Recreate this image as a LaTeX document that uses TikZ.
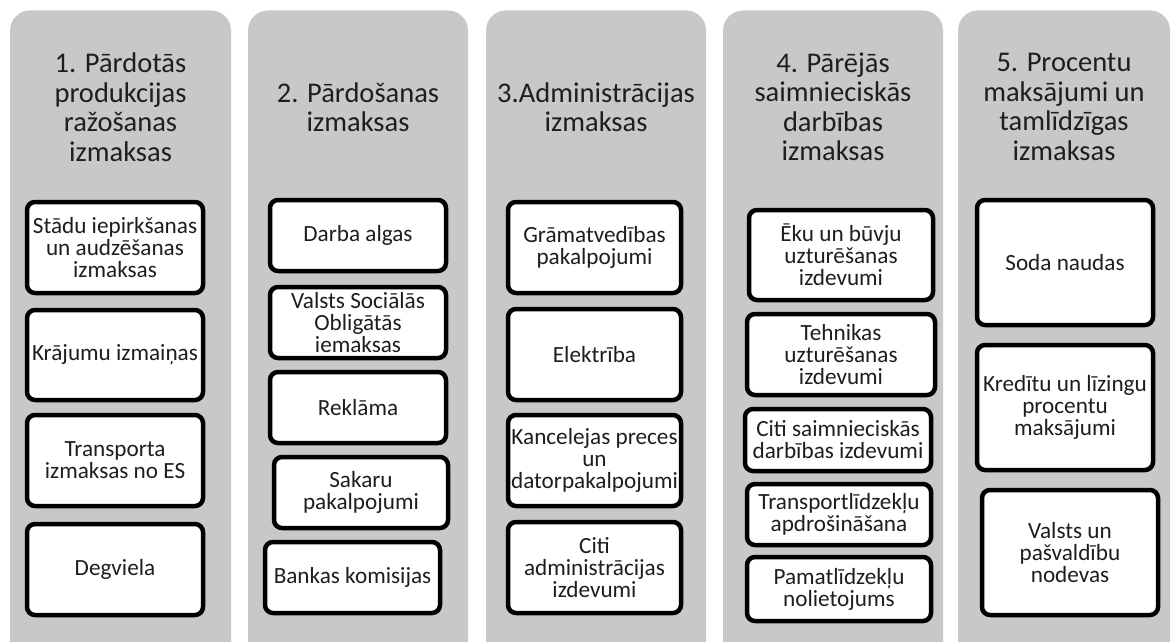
\documentclass[tikz,border=0pt]{standalone}
\usepackage{fontspec}
\setmainfont{Carlito}
\usetikzlibrary{backgrounds}
\definecolor{panelgray}{RGB}{200,200,200}
\definecolor{inktext}{RGB}{30,30,30}

\begin{document}
\begin{tikzpicture}[x=1pt, y=-1pt]
	  \tikzstyle{panel} = [rectangle, rounded corners=20pt, fill=panelgray, inner sep=0pt, minimum height=670pt]
	  \tikzstyle{heading} = [align=center, text=inktext, font=\fontsize{28.5}{29.5}\selectfont]
	  \tikzstyle{item} = [rectangle, rounded corners=8pt, draw=black, line width=4.5pt, fill=white,
	    align=center, text=inktext, inner sep=0pt, font=\fontsize{23.2}{22}\selectfont]
	  \clip (0,0) rectangle (1171,642);
	  % grey columns
	  \foreach \n/\x/\w in {1/120.5/221, 2/358/220, 3/596/220, 4/833/220, 5/1064/212}
	    \node[panel, minimum width=\w pt] (col\n) at (\x, 345.5) {};
	  % headings
	  \node[heading] (h1) at (120.5, 107) {1. Pārdotās\\produkcijas\\ražošanas\\izmaksas};
	  \node[heading] (h2) at (358, 107) {2. Pārdošanas\\izmaksas};
	  \node[heading] (h3) at (596, 107) {3.Administrācijas\\izmaksas};
	  \node[heading] (h4) at (833, 107) {4. Pārējās\\saimnieciskās\\darbības\\izmaksas};
	  \node[heading] (h5) at (1064, 107) {5. Procentu\\maksājumi un\\tamlīdzīgas\\izmaksas};
	  % column 1
	  \node[item, minimum width=176, minimum height=91] (a1) at (115, 247.5) {Stādu iepirkšanas\\un audzēšanas\\izmaksas};
	  \node[item, minimum width=176, minimum height=90] (a2) at (115, 355) {Krājumu izmaiņas};
	  \node[item, minimum width=176, minimum height=91] (a3) at (115, 460.5) {Transporta\\izmaksas no ES};
	  \node[item, minimum width=176, minimum height=91] (a4) at (115, 569.5) {Degviela};
	  % column 2
	  \node[item, minimum width=176, minimum height=71] (b1) at (358, 235.5) {Darba algas};
	  \node[item, minimum width=176, minimum height=71] (b2) at (358, 322.5) {Valsts Sociālās\\Obligātās\\iemaksas};
	  \node[item, minimum width=176, minimum height=71] (b3) at (358, 407.5) {Reklāma};
	  \node[item, minimum width=174, minimum height=71] (b4) at (361, 492.5) {Sakaru\\pakalpojumi};
	  \node[item, minimum width=175, minimum height=71] (b5) at (352.5, 577.5) {Bankas komisijas};
	  % column 3
	  \node[item, minimum width=173, minimum height=91] (c1) at (594.5, 247.5) {Grāmatvedības\\pakalpojumi};
	  \node[item, minimum width=173, minimum height=91] (c2) at (594.5, 354.5) {Elektrība};
	  \node[item, minimum width=173, minimum height=91] (c3) at (594.5, 460.5) {Kancelejas preces\\un\\datorpakalpojumi};
	  \node[item, minimum width=173, minimum height=91] (c4) at (594.5, 567.5) {Citi\\administrācijas\\izdevumi};
	  % column 4
	  \node[item, minimum width=184, minimum height=90] (d1) at (841, 255) {Ēku un būvju\\uzturēšanas\\izdevumi};
	  \node[item, minimum width=188, minimum height=81] (d2) at (841, 354.5) {Tehnikas\\uzturēšanas\\izdevumi};
	  \node[item, minimum width=186, minimum height=62] (d3) at (838, 440) {Citi saimnieciskās\\darbības izdevumi};
	  \node[item, minimum width=184, minimum height=61] (d4) at (839, 514.5) {Transportlīdzekļu\\apdrošināšana};
	  \node[item, minimum width=184, minimum height=64] (d5) at (839, 589) {Pamatlīdzekļu\\nolietojums};
	  % column 5
	  \node[item, minimum width=176, minimum height=125] (e1) at (1065, 262.5) {Soda naudas};
	  \node[item, minimum width=176, minimum height=125] (e2) at (1065, 407.5) {Kredītu un līzingu\\procentu\\maksājumi};
	  \node[item, minimum width=176, minimum height=125] (e3) at (1070, 552.5) {Valsts un\\pašvaldību\\nodevas};
	\end{tikzpicture}
\end{document}
